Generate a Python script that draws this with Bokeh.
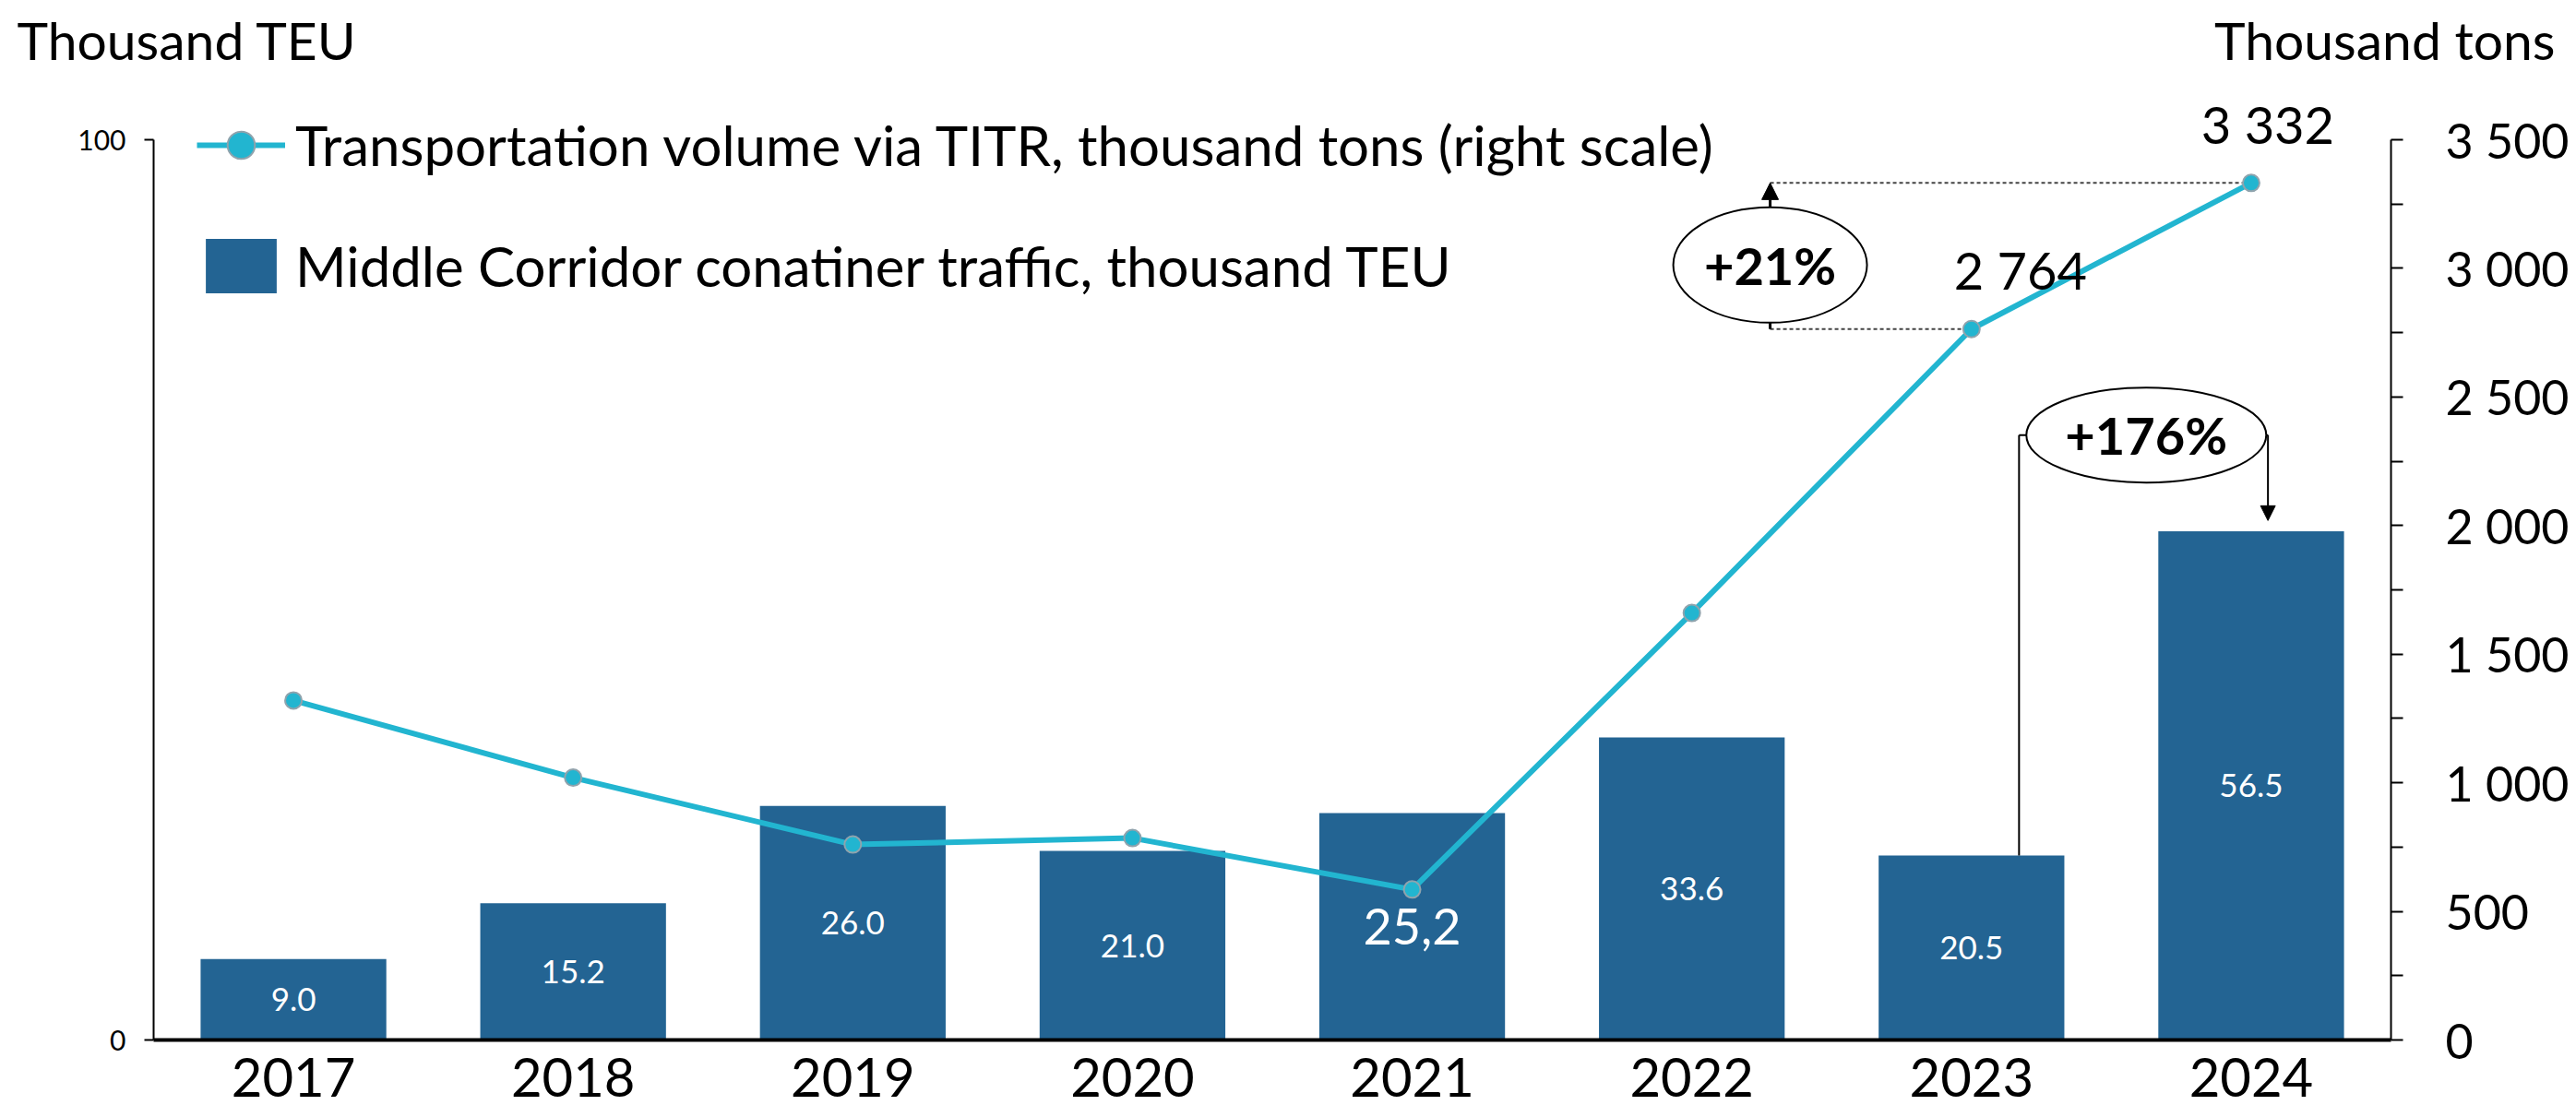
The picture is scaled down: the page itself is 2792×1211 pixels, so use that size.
from bokeh.plotting import figure
from bokeh.models import (Range1d, LinearAxis, FixedTicker, ColumnDataSource, LabelSet, Label,
                          Legend, LegendItem, Arrow, NormalHead)
from bokeh.core.properties import value
from bokeh.embed import file_html
from bokeh.resources import INLINE

# ---------------- data ----------------
years = ["2017", "2018", "2019", "2020", "2021", "2022", "2023", "2024"]
teu = [9.0, 15.2, 26.0, 21.0, 25.2, 33.6, 20.5, 56.5]
teu_labels = ["9.0", "15.2", "26.0", "21.0", "25,2", "33.6", "20.5", "56.5"]
tons = [1320, 1020, 760, 785, 585, 1660, 2764, 3332]
left_ticks = [0, 100]
right_ticks = [0, 500, 1000, 1500, 2000, 2500, 3000, 3500]
right_tick_labels = ["0", "500", "1 000", "1 500", "2 000", "2 500", "3 000", "3 500"]
right_minor = [250, 750, 1250, 1750, 2250, 2750, 3250]
growth_tons = "+21%"
growth_teu = "+176%"
legend_line = "Transportation volume via TITR, thousand tons (right scale)"
legend_bar = "Middle Corridor conatiner traffic, thousand TEU"

FONT = "Lato"
BAR = "#236493"
CYAN = "#22B5D0"

# ---------------- layout (pixels) ----------------
W, H = 2792, 1211
AX_L, AX_R, AX_T, AX_B = 166, 2591, 151, 1127   # where the axes sit on the canvas
LMAX, RMAX = 100, 3500
n = len(years)
xpx = (AX_R - AX_L) / n
ypx = (AX_B - AX_T) / LMAX
x_start = -0.5 - AX_L / xpx
x_end = n - 0.5 + (W - AX_R) / xpx
y_top = LMAX + AX_T / ypx
y_bot = -(H - AX_B) / ypx
rk = RMAX / LMAX

x = list(range(n))
src = ColumnDataSource(dict(
    x=x, teu=teu, mid=[v / 2 for v in teu], lbl=teu_labels,
    fs=["54px" if l == "25,2" else "35px" for l in teu_labels],
    tons=tons,
))

p = figure(width=W, height=H,
           x_range=Range1d(x_start, x_end), y_range=Range1d(y_bot, y_top),
           output_backend="svg", toolbar_location=None,
           min_border_left=0, min_border_right=0, min_border_top=0, min_border_bottom=0)
p.extra_y_ranges = {"right": Range1d(y_bot * rk, y_top * rk)}
p.outline_line_color = None
p.xgrid.visible = False
p.ygrid.visible = False
p.background_fill_color = "white"
p.border_fill_color = "white"

# left axis
ya = p.yaxis[0]
ya.fixed_location = -0.5
ya.bounds = (0, LMAX)
ya.ticker = FixedTicker(ticks=left_ticks)
ya.major_tick_out = 10
ya.major_tick_in = 0
ya.minor_tick_line_color = None
ya.axis_line_width = 2
ya.major_tick_line_width = 2
ya.major_label_text_font = FONT
ya.major_label_text_font_size = "30px"
ya.major_label_standoff = 20
ya.major_label_text_color = "black"

# bottom axis
xa = p.xaxis[0]
xa.fixed_location = 0
xa.bounds = (-0.5, n - 0.5)
xa.ticker = FixedTicker(ticks=x)
xa.major_label_overrides = {i: y for i, y in zip(x, years)}
xa.major_tick_line_color = None
xa.minor_tick_line_color = None
xa.axis_line_width = 4
xa.major_label_text_font = FONT
xa.major_label_text_font_size = "58px"
xa.major_label_standoff = 13
xa.major_label_text_color = "black"

# right axis
ra = LinearAxis(y_range_name="right", fixed_location=n - 0.5, bounds=(0, RMAX),
                ticker=FixedTicker(ticks=right_ticks, minor_ticks=right_minor),
                major_label_overrides=dict(zip(right_ticks, right_tick_labels)))
ra.major_tick_out = 13
ra.major_tick_in = 0
ra.minor_tick_out = 13
ra.minor_tick_in = 0
ra.axis_line_width = 2
ra.major_tick_line_width = 2
ra.minor_tick_line_width = 2
ra.major_label_text_font = FONT
ra.major_label_text_font_size = "52px"
ra.major_label_standoff = 46
ra.major_label_text_color = "black"
p.add_layout(ra, "right")

# bars
r_bar = p.vbar(x="x", top="teu", width=0.664, source=src, fill_color=BAR, line_color=None)
p.add_layout(LabelSet(x="x", y="mid", text="lbl", source=src, text_color="white",
                      text_font=value(FONT), text_font_size="fs", text_align="center",
                      text_baseline="middle"))

# ---------------- annotations (+21%) ----------------
ex21, ey21 = 5.28, 3013
p.segment(x0=[ex21, ex21], y0=[tons[7], tons[6]], x1=[7, 6], y1=[tons[7], tons[6]],
          y_range_name="right", line_color="#444444", line_width=2, line_dash="4 3")
p.segment(x0=[ex21], y0=[ey21], x1=[ex21], y1=[tons[6]], y_range_name="right",
          line_color="black", line_width=3)

# ---------------- annotations (+176%) ----------------
ex176, ey176 = 6.625, 67.2
xl, xr = 6.17, 7.06
p.segment(x0=[xl, xl, xr], y0=[teu[6], ey176, ey176], x1=[xl, 6.3, 6.95], y1=[ey176, ey176, ey176],
          line_color="black", line_width=2)

# line series
r_line = p.line(x, tons, y_range_name="right", line_color=CYAN, line_width=6)
r_pts = p.scatter(x, tons, y_range_name="right", size=18, fill_color=CYAN,
                  line_color="#8FA3AD", line_width=2)

# ellipses
p.ellipse(x=[ex21], y=[ey21], width=210, height=125, width_units="screen",
          height_units="screen", fill_color="white", line_color="black", line_width=2,
          y_range_name="right")
p.ellipse(x=[ex176], y=[ey176], width=260, height=103, width_units="screen",
          height_units="screen", fill_color="white", line_color="black", line_width=2)

p.add_layout(Arrow(end=NormalHead(size=18, fill_color="black", line_color="black"),
                   x_start=ex21, y_start=3237, x_end=ex21, y_end=tons[7],
                   y_range_name="right", line_width=3, line_color="black"))
p.add_layout(Arrow(end=NormalHead(size=16, fill_color="black", line_color="black"),
                   x_start=xr, y_start=ey176, x_end=xr, y_end=teu[7] + 1.2,
                   line_width=2, line_color="black"))

p.add_layout(Label(x=ex21, y=ey21, y_range_name="right", text=growth_tons, text_font=FONT,
                   text_font_style="bold", text_font_size="56px", text_align="center",
                   text_baseline="middle", text_color="black"))
p.add_layout(Label(x=ex176, y=ey176, text=growth_teu, text_font=FONT,
                   text_font_style="bold", text_font_size="56px", text_align="center",
                   text_baseline="middle", text_color="black"))

# value labels for last two points
for i, dx in ((6, 53), (7, 18)):
    p.add_layout(Label(x=i, y=tons[i], y_range_name="right",
                       text=f"{tons[i]:,}".replace(",", " "), x_offset=dx, y_offset=64,
                       text_font=FONT, text_font_size="56px", text_align="center",
                       text_baseline="middle", text_color="black"))

# axis titles
p.add_layout(Label(x=-0.5, y=LMAX, x_offset=-148, y_offset=143, text="Thousand TEU",
                   text_font=FONT, text_font_size="57px", text_align="left",
                   text_baseline="top", text_color="black"))
p.add_layout(Label(x=n - 0.5, y=LMAX, x_offset=178, y_offset=143, text="Thousand tons",
                   text_font=FONT, text_font_size="57px", text_align="right",
                   text_baseline="top", text_color="black"))

# legend
legend = Legend(items=[LegendItem(label=legend_line, renderers=[r_line, r_pts]),
                       LegendItem(label=legend_bar, renderers=[r_bar])],
                location=(213, H - 325), glyph_width=96, glyph_height=74, label_height=60,
                label_standoff=11, spacing=57, padding=0, margin=0,
                border_line_color=None, background_fill_alpha=0,
                label_text_font=FONT, label_text_font_size="60px", label_text_color="black")
p.add_layout(legend)

open("out.html", "w").write(file_html(p, INLINE))
